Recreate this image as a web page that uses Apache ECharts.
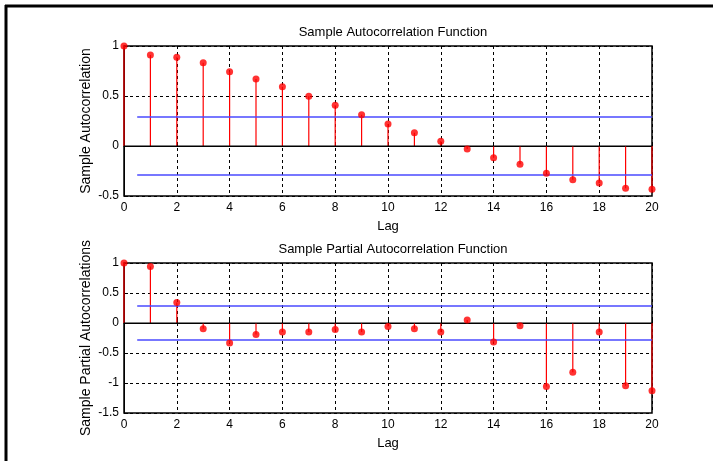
<!DOCTYPE html>
<html>
<head>
<meta charset="utf-8">
<script src="https://cdn.jsdelivr.net/npm/echarts@6/dist/echarts.min.js"></script>
<style>html,body{margin:0;padding:0;background:#fff}#c{width:713px;height:461px}</style>
</head>
<body>
<div id="c"></div>
<script>
const lags = [0,1,2,3,4,5,6,7,8,9,10,11,12,13,14,15,16,17,18,19,20];
const acf = [1.0,0.91,0.887,0.833,0.743,0.67,0.593,0.497,0.407,0.313,0.22,0.133,0.047,-0.03,-0.117,-0.183,-0.273,-0.337,-0.37,-0.423,-0.433];
const pacf = [1.0,0.943,0.343,-0.095,-0.333,-0.19,-0.15,-0.15,-0.11,-0.15,-0.06,-0.095,-0.15,0.05,-0.317,-0.045,-1.06,-0.82,-0.15,-1.045,-1.13];
const acfBound = 0.29;
const pacfBound = 0.285;
const boundRange = [0.5, 20];
const titles = ['Sample Autocorrelation Function', 'Sample Partial Autocorrelation Function'];
const yNames = ['Sample Autocorrelation', 'Sample Partial Autocorrelations'];

const FONT = 'Liberation Sans, Arial, sans-serif';
const chart = echarts.init(document.getElementById('c'));

function pairs(vals){ return lags.map((l,i)=>[l, vals[i]]); }

function xAxis(gi){
  return {
    type:'value', gridIndex:gi, min:0, max:20, interval:2,
    name:'Lag', nameLocation:'middle', nameGap:24, nameMoveOverlap:false,
    nameTextStyle:{color:'#000', fontSize:13, fontFamily:FONT},
    axisLine:{show:true, lineStyle:{color:'#000', width:1}},
    axisTick:{show:true, inside:true, length:4, lineStyle:{color:'#000'}},
    axisLabel:{color:'#000', fontSize:12, fontFamily:FONT, margin:6},
    splitLine:{show:true, lineStyle:{color:'#000', type:[3,3], width:1}}
  };
}
function yAxis(gi, min, name){
  return {
    type:'value', gridIndex:gi, min:min, max:1, interval:0.5,
    name:name, nameLocation:'middle', nameGap:31, nameRotate:90, nameMoveOverlap:false,
    nameTextStyle:{color:'#000', fontSize:14, fontFamily:FONT},
    axisLine:{show:true, lineStyle:{color:'#000', width:1}},
    axisTick:{show:true, inside:true, length:4, lineStyle:{color:'#000'}},
    axisLabel:{color:'#000', fontSize:12, fontFamily:FONT, margin:5},
    splitLine:{show:true, lineStyle:{color:'#000', type:[3,3], width:1}}
  };
}
function stems(gi, vals){
  return {
    type:'custom', xAxisIndex:gi, yAxisIndex:gi, z:3,
    data: pairs(vals),
    renderItem:function(params, api){
      const p0 = api.coord([api.value(0), 0]);
      const p1 = api.coord([api.value(0), api.value(1)]);
      return {type:'line', shape:{x1:p0[0], y1:p0[1], x2:p1[0], y2:p1[1]},
        style:{stroke:'#ff0000', lineWidth:1.2}};
    }
  };
}
function dots(gi, vals){
  return {type:'scatter', xAxisIndex:gi, yAxisIndex:gi, z:5, data:pairs(vals),
    symbol:'circle', symbolSize:7, itemStyle:{color:'#ff0000'}, silent:true};
}
function hline(gi, y, color, w){
  return {type:'line', xAxisIndex:gi, yAxisIndex:gi, z:4, symbol:'none', silent:true,
    data:[[boundRange[0], y],[boundRange[1], y]], lineStyle:{color:color, width:w}};
}
function zline(gi){
  return {type:'line', xAxisIndex:gi, yAxisIndex:gi, z:4, symbol:'none', silent:true,
    data:[[0,0],[20,0]], lineStyle:{color:'#000', width:1.2}};
}

chart.setOption({
  animation:false,
  backgroundColor:'#fff',
  title:[
    {text:titles[0], left:388, top:21, textAlign:'center', textStyle:{fontSize:13, fontWeight:'normal', color:'#000', fontFamily:FONT}},
    {text:titles[1], left:388, top:238, textAlign:'center', textStyle:{fontSize:13, fontWeight:'normal', color:'#000', fontFamily:FONT}}
  ],
  grid:[
    {left:124, top:46, width:528, height:150, show:true, borderColor:'#000', borderWidth:1.5, backgroundColor:'transparent'},
    {left:124, top:263, width:528, height:150, show:true, borderColor:'#000', borderWidth:1.5, backgroundColor:'transparent'}
  ],
  xAxis:[xAxis(0), xAxis(1)],
  yAxis:[yAxis(0, -0.5, yNames[0]), yAxis(1, -1.5, yNames[1])],
  graphic:[
    {type:'line', shape:{x1:6, y1:5, x2:6, y2:461}, style:{stroke:'#000', lineWidth:3}},
    {type:'line', shape:{x1:5, y1:6, x2:713, y2:6}, style:{stroke:'#000', lineWidth:3}}
  ],
  series:[
    zline(0), hline(0, acfBound, '#4a4aff', 1.5), hline(0, -acfBound, '#4a4aff', 1.5), stems(0, acf), dots(0, acf),
    zline(1), hline(1, pacfBound, '#4a4aff', 1.5), hline(1, -pacfBound, '#4a4aff', 1.5), stems(1, pacf), dots(1, pacf)
  ]
});
</script>
</body>
</html>
